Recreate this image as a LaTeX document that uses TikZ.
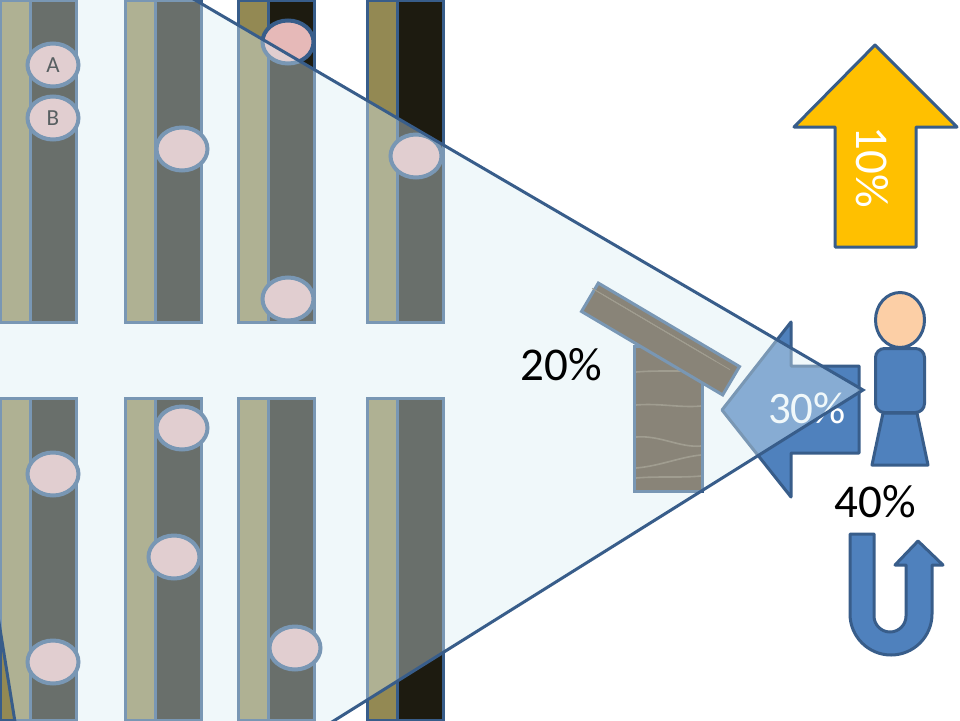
\documentclass[tikz,border=0pt]{standalone}
\usepackage{fontspec}
\setmainfont{Carlito}
\usetikzlibrary{shapes.geometric}
\definecolor{Olive}{HTML}{938953}
\definecolor{Tar}{HTML}{1D1B10}
\definecolor{Rose}{HTML}{E6B9B8}
\definecolor{Steel}{HTML}{385D8A}
\definecolor{Azure}{HTML}{4F81BD}
\definecolor{Amber}{HTML}{FFC000}
\definecolor{Skin}{HTML}{FCCFA6}
\definecolor{Wood}{HTML}{533E26}
\definecolor{Grain}{HTML}{7A684E}
\definecolor{Haze}{HTML}{DBEEF4}

\begin{document}
\begin{tikzpicture}[x=1pt,y=-1pt,
 strip/.style={draw=Steel,line width=3pt,fill=#1},
 disc/.style={ellipse,draw=Steel,line width=4pt,fill=Rose,inner sep=0pt,
   minimum width=51pt,minimum height=43pt,text=black,font=\fontsize{23}{26}\selectfont},
 timber/.style={rectangle,draw=Steel,line width=3pt,fill=Wood,inner sep=0pt},
 streak/.style={draw=Grain,line width=1.6pt},
 figure/.style={draw=Steel,line width=3pt,fill=Azure,line join=round},
 share/.style={inner sep=0pt,font=\fontsize{47}{50}\selectfont}]
\useasboundingbox (0,0) rectangle (960,720);
\clip (0,0) rectangle (960,720);
\fill[white] (0,0) rectangle (960,720);
% shelves
\foreach \x in {0,125,238,367}
  \foreach \ya/\yb in {0/322,398/720}{
    \draw[strip=Olive] (\x,\ya) rectangle (\x+30,\yb);
    \draw[strip=Tar] (\x+30,\ya) rectangle (\x+76,\yb);
  }
% shoppers
\node[disc] (a) at (53,65) {A};
\node[disc] (b) at (53,118) {B};
\foreach \n/\x/\y in {c/182/149,d/288/42,e/288/299,f/416/156,g/53/474,h/182/428,i/174/557,j/295/648,k/53/662}
  \node[disc] (\n) at (\x,\y) {};
% display
\node[timber,minimum width=68pt,minimum height=145pt] (post) at (668,418.5) {};
\foreach \y/\z in {372/370,405/406,437/446,468/455,478/476}
  \draw[streak] (636,\y) .. controls (660,\y-2) and (680,\z+2) .. (701,\z);
\node[timber,minimum width=164pt,minimum height=33pt,rotate=-30.6] (beam) at (660.5,339) {};
\foreach \a/\b in {603/708,596/730,592/716}
  \draw[streak,line width=.8pt] (\a,\a*.59-61) -- (\b,\b*.59-61);
% attention arrow
\draw[figure] (722,410)--(791,322)--(791,366)--(859,366)--(859,453)--(791,453)--(791,497)--cycle;
\node[share,text=white,font=\fontsize{45}{50}\selectfont] (thirty) at (807,408) {30\%};
% person
\node[ellipse,draw=Steel,line width=3pt,fill=Skin,minimum width=49pt,minimum height=55pt,inner sep=0pt] (head) at (900,320) {};
\draw[figure] (883,413)--(917,413)--(928,465)--(872,465)--cycle;
\node[rectangle,rounded corners=9pt,draw=Steel,line width=3pt,fill=Azure,minimum width=49pt,minimum height=64pt,inner sep=0pt] (body) at (900,380.5) {};
% up arrow
\draw[figure,fill=Amber] (875,45)--(957,127)--(916,127)--(916,247)--(835,247)--(835,127)--(794,127)--cycle;
\node[share,text=white,rotate=-90] (ten) at (872,167) {10\%};
% u-turn
\draw[figure] (850,534)--(874,534)--(874,616) arc[start angle=180,end angle=0,x radius=16,y radius=16]
  --(906,565)--(895,565)--(918,541)--(943,565)--(932,565)--(932,614)
  arc[start angle=0,end angle=180,x radius=41,y radius=41]--cycle;
% field of view
\draw[draw=Steel,line width=3pt,fill=Haze,fill opacity=.4,line join=miter]
  (863,390)--(-132,-191)--(44,902)--cycle;
% shares outside the arrow
\node[share] (twenty) at (561,365) {20\%};
\node[share] (forty) at (875,502) {40\%};
\end{tikzpicture}
\end{document}
